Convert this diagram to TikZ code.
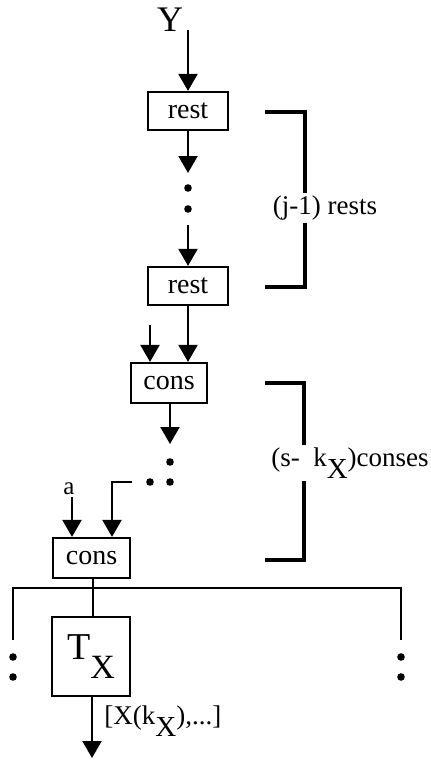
\documentclass[tikz,border=0pt]{standalone}
\usepackage{fontspec}
\setmainfont{Liberation Serif}
\usetikzlibrary{arrows.meta}
\begin{document}
\begin{tikzpicture}[x=0.5pt,y=-0.5pt]
	% Styles
	\tikzstyle{fleche}=[-{Triangle[width=9.5pt,length=8.5pt]},line width=1.1pt]
	\tikzstyle{trait}=[-,line width=1.1pt]
	\tikzstyle{boite}=[draw,line width=1.1pt,inner sep=0pt,font=\fontsize{14}{14}\selectfont]
	\tikzstyle{accolade}=[-,line width=1.6pt]
	\tikzstyle{commentaire}=[inner sep=1pt,font=\fontsize{13.5}{14}\selectfont]
	\tikzstyle{point}=[circle,fill,inner sep=0pt,minimum size=3.8pt]
	% Indice X
	\def\IndiceX{\raisebox{-1ex}{\fontsize{14.5}{15}\selectfont X}}
	\useasboundingbox (0,0) rectangle (430,760);
	% Noeuds
	\node[font=\fontsize{18}{18}\selectfont] (Y) at (170,20) {Y};
	\coordinate (Yd) at (188,30);
	\node[boite,minimum width=40pt,minimum height=19pt] (rA) at (188,111) {rest};
	\coordinate (rAb) at (188,173);
	\node[point] (p1) at (188,188) {};
	\node[point] (p2) at (188,209) {};
	\coordinate (rBh) at (188,225);
	\node[boite,minimum width=40pt,minimum height=19pt] (rB) at (188,286) {rest};
	\coordinate (cAe) at (150,325);
	\node[boite,minimum width=38pt,minimum height=20pt] (cA) at (169,383) {cons};
	\coordinate (cAb) at (170,444);
	\node[point] (p3) at (170,462) {};
	\node[point] (p4) at (170,482) {};
	\node[point] (p5) at (150,482) {};
	\coordinate (Lh) at (132,482);
	\node[commentaire,font=\fontsize{12.5}{13}\selectfont] (a) at (69,489) {a};
	\node[boite,minimum width=38.5pt,minimum height=20pt] (cB) at (91.5,558) {cons};
	\node[boite,minimum width=39pt,minimum height=39.5pt] (T) at (91,656.5)
		{\fontsize{19}{19}\selectfont T\raisebox{-1.1ex}{\fontsize{17}{17}\selectfont X}};
	\coordinate (Tb) at (92,758);
	\node[commentaire,anchor=west] (sortie) at (102,721) {[X(k\IndiceX),...]};
	% Peigne
	\coordinate (hG) at (13,588);
	\coordinate (hD) at (401,588);
	\coordinate (bG) at (13,640);
	\coordinate (bD) at (401,640);
	\node[point] (g1) at (13,657) {};
	\node[point] (g2) at (13,677) {};
	\node[point] (d1) at (401,657) {};
	\node[point] (d2) at (401,677) {};
	% Accolades
	\node[commentaire] (lA) at (325,208) {(j-1) rests};
	\node[commentaire] (lB) at (350,463) {(s-\ \ k\IndiceX)conses};
	\coordinate (aA) at (305,112);
	\coordinate (aB) at (305,287);
	\coordinate (aC) at (304,383);
	\coordinate (aD) at (304,560);
	% Arcs
	\draw[fleche] (Yd)--(rA.north -| Yd);
	\draw[fleche] (rA.south)--(rAb);
	\draw[fleche] (rBh)--(rB.north);
	\draw[fleche] (rB.south)--(rB.south |- cA.north);
	\draw[fleche] (cAe)--(cAe |- cA.north);
	\draw[fleche] (cA.south -| cAb)--(cAb);
	\draw[fleche] (Lh)--(112,482)--(112,482 |- cB.north);
	\draw[fleche] (a.south -| 72,0)--(72,0 |- cB.north);
	\draw[trait] (cB.south -| 93,0)--(93,0 |- T.north);
	\draw[trait] (bG)--(hG)--(hD)--(bD);
	\draw[fleche] (T.south -| Tb)--(Tb);
	\draw[accolade] (265,112)--(aA)--(aA |- lA.north);
	\draw[accolade] (aA |- lA.south)--(aB)--(265,287);
	\draw[accolade] (265,383)--(aC)--(aC |- lB.north);
	\draw[accolade] (aC |- lB.south)--(aD)--(265,560);
\end{tikzpicture}
\end{document}
